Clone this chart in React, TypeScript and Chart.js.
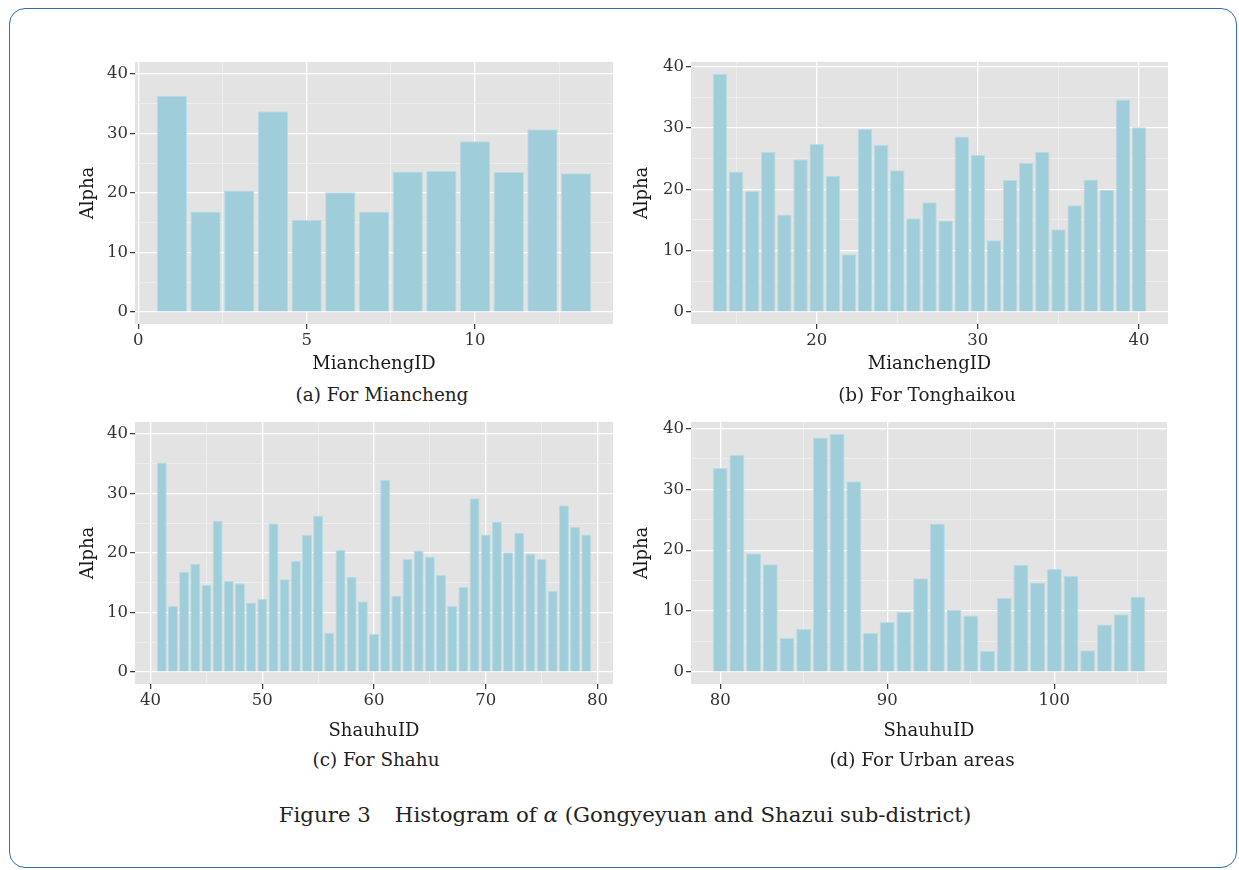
import React, { useEffect, useRef } from 'react';
import { Chart, registerables } from 'chart.js';

Chart.register(...registerables);

// ---------------- data ----------------
const mianchengIds = [1, 2, 3, 4, 5, 6, 7, 8, 9, 10, 11, 12, 13];
const mianchengAlpha = [36.3, 16.9, 20.4, 33.7, 15.5, 20.1, 16.9, 23.6, 23.7, 28.7, 23.5, 30.7, 23.3];

const tonghaikouIds = [14, 15, 16, 17, 18, 19, 20, 21, 22, 23, 24, 25, 26, 27, 28, 29, 30, 31, 32, 33, 34, 35, 36, 37, 38, 39, 40];
const tonghaikouAlpha = [38.8, 22.9, 19.7, 26.1, 15.9, 24.9, 27.4, 22.2, 9.4, 29.8, 27.2, 23.1, 15.3, 17.9, 14.9, 28.6, 25.6, 11.7, 21.5, 24.3, 26.1, 13.5, 17.4, 21.6, 19.9, 34.6, 30.1];

const shahuIds = [41, 42, 43, 44, 45, 46, 47, 48, 49, 50, 51, 52, 53, 54, 55, 56, 57, 58, 59, 60, 61, 62, 63, 64, 65, 66, 67, 68, 69, 70, 71, 72, 73, 74, 75, 76, 77, 78, 79];
const shahuAlpha = [35.2, 11.1, 16.9, 18.2, 14.6, 25.4, 15.3, 14.9, 11.7, 12.3, 25.0, 15.6, 18.7, 23.0, 26.3, 6.6, 20.5, 16.0, 11.9, 6.4, 32.3, 12.8, 19.0, 20.4, 19.4, 16.3, 11.1, 14.3, 29.2, 23.1, 25.3, 20.1, 23.4, 19.9, 19.0, 13.6, 28.0, 24.4, 23.1];

const urbanIds = [80, 81, 82, 83, 84, 85, 86, 87, 88, 89, 90, 91, 92, 93, 94, 95, 96, 97, 98, 99, 100, 101, 102, 103, 104, 105];
const urbanAlpha = [33.5, 35.6, 19.5, 17.7, 5.6, 7.1, 38.5, 39.1, 31.3, 6.4, 8.2, 9.9, 15.4, 24.4, 10.2, 9.3, 3.5, 12.2, 17.6, 14.7, 16.9, 15.8, 3.6, 7.8, 9.5, 12.4];

// tick labels
const yMajorTicks = [0, 10, 20, 30, 40];
const yMinorTicks = [5, 15, 25, 35];
const aMajorX = [0, 5, 10];
const aMinorX = [2.5, 7.5, 12.5];
const bMajorX = [20, 30, 40];
const bMinorX = [15, 25, 35];
const cMajorX = [40, 50, 60, 70, 80];
const cMinorX = [45, 55, 65, 75];
const dMajorX = [80, 90, 100];
const dMinorX = [85, 95, 105];

const FONT = "'DejaVu Serif', serif";
const BAR_FILL = '#9FCDDA';
const BAR_EDGE = '#B9DCE5';
const PANEL_BG = '#E3E3E3';

type PanelProps = {
  ids: number[];
  values: number[];
  xMajor: number[];
  xMinor: number[];
  xMin: number;
  xMax: number;
  yMin: number;
  yMax: number;
  xTitle: string;
  left: number;
  top: number;
  width: number;
  height: number;
  yAxisWidth: number;
  xAxisHeight: number;
  padTop: number;
  padRight: number;
  yTitlePad: number;
  xTitlePad: number;
};

const panelBg = {
  id: 'panelBg',
  beforeDraw(chart: any) {
    const { ctx, chartArea } = chart;
    ctx.save();
    ctx.fillStyle = PANEL_BG;
    ctx.fillRect(chartArea.left, chartArea.top, chartArea.right - chartArea.left, chartArea.bottom - chartArea.top);
    ctx.restore();
  },
};

function Panel(p: PanelProps) {
  const ref = useRef<HTMLCanvasElement | null>(null);
  useEffect(() => {
    if (!ref.current) return;
    const xAll = [...p.xMajor, ...p.xMinor].sort((a, b) => a - b);
    const yAll = [...yMajorTicks, ...yMinorTicks].sort((a, b) => a - b);
    const isMajX = (v: any) => p.xMajor.includes(v);
    const isMajY = (v: any) => yMajorTicks.includes(v);
    const gridColor = (maj: (v: any) => boolean) => (c: any) => (c.tick && maj(c.tick.value) ? '#FFFFFF' : '#F1F1F1');
    const gridWidth = (maj: (v: any) => boolean) => (c: any) => (c.tick && maj(c.tick.value) ? 1.3 : 0.7);
    const tickColor = (maj: (v: any) => boolean) => (c: any) => (c.tick && maj(c.tick.value) ? '#333333' : 'rgba(0,0,0,0)');

    const chart = new Chart(ref.current, {
      type: 'bar',
      data: {
        datasets: [
          {
            data: p.ids.map((x, i) => ({ x, y: p.values[i] })),
            backgroundColor: BAR_FILL,
            borderColor: BAR_EDGE,
            borderWidth: 1,
            categoryPercentage: 1,
            barPercentage: 0.9,
          } as any,
        ],
      },
      options: {
        animation: false,
        responsive: false,
        events: [],
        layout: { padding: { top: p.padTop, right: p.padRight, left: 0, bottom: 0 } },
        plugins: { legend: { display: false }, tooltip: { enabled: false } },
        scales: {
          x: {
            type: 'linear',
            min: p.xMin,
            max: p.xMax,
            offset: false,
            afterBuildTicks: (s: any) => {
              s.ticks = xAll.map((v) => ({ value: v }));
            },
            afterFit: (s: any) => {
              s.height = p.xAxisHeight;
            },
            ticks: {
              autoSkip: false,
              maxRotation: 0,
              padding: 2,
              color: '#333333',
              font: { family: FONT, size: 16.5 },
              callback: (v: any) => (isMajX(v) ? String(v) : ''),
            },
            grid: {
              offset: false,
              color: gridColor(isMajX),
              lineWidth: gridWidth(isMajX),
              tickColor: tickColor(isMajX),
              tickLength: 5,
              tickWidth: 1.2,
            },
            border: { display: false },
            title: {
              display: true,
              text: p.xTitle,
              color: '#1A1A1A',
              font: { family: FONT, size: 18 },
              padding: { top: 0, bottom: p.xTitlePad },
            },
          } as any,
          y: {
            type: 'linear',
            min: p.yMin,
            max: p.yMax,
            afterBuildTicks: (s: any) => {
              s.ticks = yAll.map((v) => ({ value: v }));
            },
            afterFit: (s: any) => {
              s.width = p.yAxisWidth;
            },
            ticks: {
              autoSkip: false,
              padding: 2,
              color: '#333333',
              font: { family: FONT, size: 16.5 },
              callback: (v: any) => (isMajY(v) ? String(v) : ''),
            },
            grid: {
              color: gridColor(isMajY),
              lineWidth: gridWidth(isMajY),
              tickColor: tickColor(isMajY),
              tickLength: 5,
              tickWidth: 1.2,
            },
            border: { display: false },
            title: {
              display: true,
              text: 'Alpha',
              color: '#1A1A1A',
              font: { family: FONT, size: 18 },
              padding: { top: p.yTitlePad, bottom: 0 },
            },
          } as any,
        },
      },
      plugins: [panelBg],
    });
    return () => chart.destroy();
  }, []);
  return (
    <canvas
      ref={ref}
      width={p.width}
      height={p.height}
      style={{ position: 'absolute', left: p.left, top: p.top, width: p.width, height: p.height }}
    />
  );
}

const subStyle = (cx: number, cy: number): React.CSSProperties => ({
  position: 'absolute',
  left: cx - 250,
  top: cy - 12,
  width: 500,
  height: 24,
  lineHeight: '24px',
  textAlign: 'center',
  fontFamily: FONT,
  fontSize: 18.4,
  color: '#222222',
  whiteSpace: 'nowrap',
});

export default function App() {
  return (
    <div style={{ position: 'absolute', left: 0, top: 0, width: 1239, height: 870, background: '#FFFFFF', overflow: 'hidden' }}>
      <div
        style={{
          position: 'absolute',
          left: 9,
          top: 8,
          width: 1226,
          height: 858,
          border: '1.5px solid #2F6DB5',
          borderRadius: 16,
        }}
      />
      <Panel
        ids={mianchengIds}
        values={mianchengAlpha}
        xMajor={aMajorX}
        xMinor={aMinorX}
        xMin={-0.095}
        xMax={14.095}
        yMin={-2}
        yMax={42}
        xTitle="MianchengID"
        left={70}
        top={50}
        width={560}
        height={330}
        yAxisWidth={65}
        xAxisHeight={56}
        padTop={10}
        padRight={17}
        yTitlePad={8}
        xTitlePad={5}
      />
      <Panel
        ids={tonghaikouIds}
        values={tonghaikouAlpha}
        xMajor={bMajorX}
        xMinor={bMinorX}
        xMin={12.205}
        xMax={41.795}
        yMin={-1.94}
        yMax={40.74}
        xTitle="MianchengID"
        left={620}
        top={50}
        width={560}
        height={330}
        yAxisWidth={71}
        xAxisHeight={56}
        padTop={10}
        padRight={12}
        yTitlePad={12}
        xTitlePad={5}
      />
      <Panel
        ids={shahuIds}
        values={shahuAlpha}
        xMajor={cMajorX}
        xMinor={cMinorX}
        xMin={38.605}
        xMax={81.395}
        yMin={-2}
        yMax={42}
        xTitle="ShauhuID"
        left={70}
        top={410}
        width={560}
        height={337}
        yAxisWidth={65}
        xAxisHeight={63}
        padTop={11}
        padRight={17}
        yTitlePad={8}
        xTitlePad={5}
      />
      <Panel
        ids={urbanIds}
        values={urbanAlpha}
        xMajor={dMajorX}
        xMinor={dMinorX}
        xMin={78.255}
        xMax={106.745}
        yMin={-1.955}
        yMax={41.05}
        xTitle="ShauhuID"
        left={620}
        top={410}
        width={560}
        height={337}
        yAxisWidth={71}
        xAxisHeight={63}
        padTop={10}
        padRight={13}
        yTitlePad={12}
        xTitlePad={5}
      />
      <div style={subStyle(382, 395)}>(a) For Miancheng</div>
      <div style={subStyle(927, 395)}>(b) For Tonghaikou</div>
      <div style={subStyle(376, 760)}>(c) For Shahu</div>
      <div style={subStyle(922, 760)}>(d) For Urban areas</div>
      <div
        style={{
          position: 'absolute',
          left: 125,
          top: 801,
          width: 1000,
          height: 28,
          lineHeight: '28px',
          textAlign: 'center',
          fontFamily: FONT,
          fontSize: 21.3,
          color: '#222222',
          whiteSpace: 'nowrap',
        }}
      >
        <span style={{ marginRight: 24 }}>Figure 3</span>
        Histogram of <i>α</i> (Gongyeyuan and Shazui sub-district)
      </div>
    </div>
  );
}
